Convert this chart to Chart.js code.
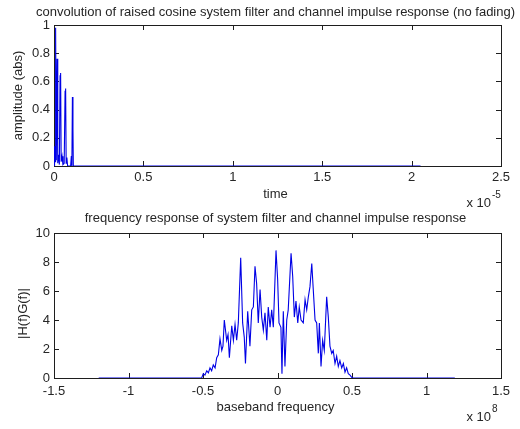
<!DOCTYPE html>
<html>
<head>
<meta charset="utf-8">
<script src="https://cdn.jsdelivr.net/npm/chart.js@4.4.1/dist/chart.umd.min.js"></script>
<style>
  html, body { margin: 0; padding: 0; background: #fff; overflow: hidden; }
  #wrap { position: relative; width: 520px; height: 429px; }
  .panel { position: absolute; left: 0; width: 520px; }
  #topPanel { top: 0; height: 210px; }
  #bottomPanel { top: 210px; height: 219px; }
</style>
</head>
<body>
<div id="wrap">
  <div class="panel" id="topPanel"><canvas id="timeChart"></canvas></div>
  <div class="panel" id="bottomPanel"><canvas id="freqChart"></canvas></div>
</div>
<script>
// impulse response, time in units of 1e-5 s
const timeValues = [0, 0.003, 0.006, 0.009, 0.013, 0.017, 0.021, 0.026, 0.030, 0.034, 0.037, 0.040,
  0.045, 0.050, 0.057, 0.062, 0.065, 0.068, 0.072, 0.076, 0.093, 0.097, 0.100, 0.103, 0.106, 0.108, 2.05];
const amplitudeValues = [0, 0.14, 0.03, 0.98, 0.04, 0.76, 0.02, 0.08, 0.01, 0.64, 0.66, 0.03,
  0.07, 0.01, 0.02, 0.53, 0.55, 0.02, 0.06, 0, 0, 0.07, 0, 0.49, 0.26, 0, 0];
const timeTicks = [0, 0.5, 1, 1.5, 2, 2.5];
const amplitudeTicks = [0, 0.2, 0.4, 0.6, 0.8, 1];

// frequency response, frequency in units of 1e8 Hz
const freqValues = [-1.2, -0.509, -0.498, -0.487, -0.475, -0.464, -0.453, -0.442, -0.431, -0.419,
  -0.408, -0.397, -0.386, -0.374, -0.366, -0.357, -0.341, -0.332, -0.323, -0.307, -0.296, -0.285,
  -0.274, -0.263, -0.247, -0.234, -0.223, -0.215, -0.200, -0.185, -0.173, -0.162, -0.151, -0.140,
  -0.129, -0.117, -0.106, -0.095, -0.084, -0.072, -0.062, -0.050, -0.039, -0.028, -0.010, 0.001,
  0.010, 0.023, 0.030, 0.039, 0.050, 0.062, 0.072, 0.091, 0.102, 0.113, 0.124, 0.136, 0.146, 0.158,
  0.173, 0.185, 0.196, 0.207, 0.218, 0.230, 0.240, 0.252, 0.263, 0.274, 0.281, 0.292, 0.303, 0.314,
  0.330, 0.341, 0.352, 0.364, 0.374, 0.386, 0.397, 0.408, 0.419, 0.431, 0.442, 0.453, 0.464, 0.475,
  0.487, 0.498, 0.507, 1.19];
const magnitudeValues = [0, 0, 0.3, 0.2, 0.5, 0.35, 0.7, 0.5, 0.9, 0.7,
  1.4, 1.6, 2.7, 1.9, 2.2, 4.0, 2.6, 3.0, 1.4, 3.6, 2.6, 3.7,
  2.6, 3.8, 8.3, 3.8, 2.8, 1.0, 4.6, 2.2, 4.7, 4.9, 7.7, 6.5,
  3.8, 6.1, 4.2, 3.3, 4.5, 2.6, 4.9, 3.5, 4.7, 3.5, 8.8, 6.8,
  3.8, 3.5, 0.3, 4.6, 0.8, 4.0, 4.7, 8.6, 7.0, 4.2, 5.3, 3.8, 4.9, 4.0,
  3.8, 5.4, 4.7, 5.6, 6.3, 7.9, 6.1, 4.0, 3.8, 1.7, 3.8, 0.8, 2.6, 1.9,
  5.6, 4.2, 2.2, 1.7, 1.9, 1.0, 1.5, 0.8, 1.2, 0.7, 1.0, 0.4, 0.7, 0.3,
  0.2, 0.05, 0, 0];
const freqTicks = [-1.5, -1, -0.5, 0, 0.5, 1, 1.5];
const magnitudeTicks = [0, 2, 4, 6, 8, 10];

const FONT = '"Liberation Sans", Arial, Helvetica, sans-serif';
const TEXT = '#262626';
const LINE = '#0000e6';

// matlab style box with inward ticks plus title / axis labels / exponent
const matlabAxes = {
  id: 'matlabAxes',
  beforeDatasetsDraw(chart) {
    const { ctx, chartArea: a, scales: { x, y } } = chart;
    ctx.save();
    ctx.strokeStyle = '#1e1e1e';
    ctx.lineWidth = 1;
    ctx.strokeRect(a.left + 0.5, a.top + 0.5, a.right - a.left, a.bottom - a.top);
    ctx.beginPath();
    x.ticks.forEach(t => {
      const px = Math.round(x.getPixelForValue(t.value)) + 0.5;
      ctx.moveTo(px, a.bottom); ctx.lineTo(px, a.bottom - 5);
      ctx.moveTo(px, a.top); ctx.lineTo(px, a.top + 5);
    });
    y.ticks.forEach(t => {
      const py = Math.round(y.getPixelForValue(t.value)) + 0.5;
      ctx.moveTo(a.left, py); ctx.lineTo(a.left + 5, py);
      ctx.moveTo(a.right, py); ctx.lineTo(a.right - 5, py);
    });
    ctx.stroke();
    ctx.restore();
  },
  afterDraw(chart, args, o) {
    const { ctx, chartArea: a } = chart;
    const cx = (a.left + a.right) / 2 - 2;
    ctx.save();
    ctx.fillStyle = TEXT;
    ctx.textBaseline = 'middle';
    ctx.textAlign = 'center';
    ctx.font = '13px ' + FONT;
    ctx.fillText(o.title, cx, a.top + o.titleY);
    ctx.fillText(o.xlabel, cx, a.bottom + o.xlabelY);
    ctx.save();
    ctx.translate(o.ylabelX, (a.top + a.bottom) / 2 + o.ylabelDy);
    ctx.rotate(-Math.PI / 2);
    ctx.fillText(o.ylabel, 0, 0);
    ctx.restore();
    // exponent note at lower right
    ctx.textAlign = 'right';
    ctx.fillText('x 10', a.right - 10, a.bottom + o.expY);
    ctx.textAlign = 'left';
    ctx.font = '10px ' + FONT;
    ctx.fillText(o.exponent, a.right - 9, a.bottom + o.expY - 8);
    ctx.restore();
  }
};

function fmt(v) {
  return String(+v.toFixed(2));
}

function makeChart(id, xs, ys, xTicks, yTicks, xAxisHeight, labels) {
  const points = xs.map((v, i) => ({ x: v, y: ys[i] }));
  const tickFont = { family: FONT, size: 13 };
  return new Chart(document.getElementById(id), {
    type: 'line',
    data: {
      datasets: [{
        data: points,
        borderColor: LINE,
        borderWidth: 1.1,
        pointRadius: 0,
        tension: 0,
        fill: false
      }]
    },
    options: {
      responsive: true,
      maintainAspectRatio: false,
      animation: false,
      events: [],
      layout: { padding: { top: labels.padTop, right: 19, left: 0, bottom: 0 } },
      plugins: {
        legend: { display: false },
        tooltip: { enabled: false },
        matlabAxes: labels
      },
      scales: {
        x: {
          type: 'linear',
          min: xTicks[0],
          max: xTicks[xTicks.length - 1],
          afterBuildTicks: s => { s.ticks = xTicks.map(v => ({ value: v })); },
          afterFit: s => { s.height = xAxisHeight; },
          grid: { display: false, drawTicks: false },
          border: { display: false },
          ticks: { font: tickFont, color: TEXT, padding: labels.xTickPad, maxRotation: 0, autoSkip: false, callback: fmt }
        },
        y: {
          min: yTicks[0],
          max: yTicks[yTicks.length - 1],
          afterBuildTicks: s => { s.ticks = yTicks.map(v => ({ value: v })); },
          afterFit: s => { s.width = 54; },
          grid: { display: false, drawTicks: false },
          border: { display: false },
          ticks: { font: tickFont, color: TEXT, padding: 4, autoSkip: false, callback: fmt }
        }
      }
    },
    plugins: [matlabAxes]
  });
}

makeChart('timeChart', timeValues, amplitudeValues, timeTicks, amplitudeTicks, 44, {
  title: 'convolution of raised cosine system filter and channel impulse response (no fading)',
  xlabel: 'time',
  ylabel: 'amplitude (abs)',
  exponent: '-5',
  padTop: 25,
  titleY: -13,
  xlabelY: 28,
  ylabelX: 18,
  ylabelDy: 0,
  expY: 37,
  xTickPad: 4
});

makeChart('freqChart', freqValues, magnitudeValues, freqTicks, magnitudeTicks, 51, {
  title: 'frequency response of system filter and channel impulse response',
  xlabel: 'baseband frequency',
  ylabel: '|H(f)G(f)|',
  exponent: '8',
  padTop: 23,
  titleY: -15,
  xlabelY: 29,
  ylabelX: 23,
  ylabelDy: 8,
  expY: 39,
  xTickPad: 6
});
</script>
</body>
</html>
